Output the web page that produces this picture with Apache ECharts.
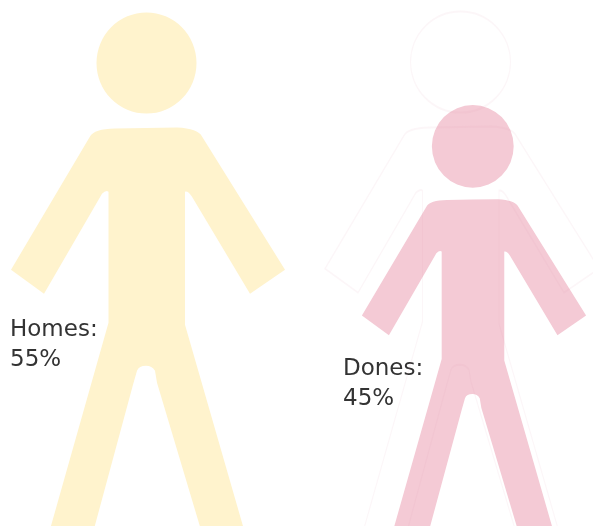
<!DOCTYPE html>
<html><head><meta charset="utf-8">
<style>html,body{margin:0;padding:0;background:#fff}#c{width:593px;height:526px}</style>
<script src="https://cdn.jsdelivr.net/npm/echarts@6/dist/echarts.min.js"></script>
</head><body><div id="c"></div>
<script>
const categories = ['Homes', 'Dones'];
const shareValues = [55, 45];
const outlineValues = [null, 55];
const colors = ['#fff3cd', '#f4cad5'];
const axisMax = 55;

const person = 'path://M96.5 63.5A50 50.5 0 1 1 196.5 63.5A50 50.5 0 1 1 96.5 63.5Z' +
  'M90 137Q94 129.5 115 129L146 128.5L177 128Q198 129 202 137L285 270L250 294L192 197' +
  'Q188 191 185 192L185 325L247 540L204 540L157 383L155 371Q152 366 146 366Q139 366 137 371' +
  'L133 385L91 540L47 540L108.5 323L108.5 192Q106 190 102 194L44 294L11 270Z';
const widthPerUnit = 274 / 55;

const chart = echarts.init(document.getElementById('c'), null, {renderer: 'canvas'});
chart.setOption({
  animation: false,
  backgroundColor: '#fff',
  grid: {left: -15, width: 652, top: 12.5, height: 527.5, outerBoundsMode: 'none'},
  xAxis: {type: 'category', data: categories, show: false},
  yAxis: {type: 'value', min: 0, max: axisMax, show: false},
  series: [
    {
      type: 'pictorialBar', name: 'share', barWidth: '100%', barGap: '-100%', z: 2,
      symbol: person, symbolPosition: 'start', silent: true,
      label: {
        show: true, formatter: '{b}:\n{c}%', color: '#333',
        fontFamily: 'DejaVu Sans', fontSize: 23, lineHeight: 30, align: 'left', verticalAlign: 'top'
      },
      data: shareValues.map((v, i) => ({
        value: v,
        symbolSize: [v * widthPerUnit, '100%'],
        symbolOffset: i === 1 ? [0, -3.4] : [0, 0],
        itemStyle: {color: colors[i]},
        label: {position: i === 0 ? [25, 303] : [32, 249]}
      }))
    },
    {
      type: 'pictorialBar', name: 'full', barWidth: '100%', barGap: '-100%', z: 3,
      symbol: person, symbolPosition: 'start', silent: true,
      itemStyle: {color: 'rgba(0,0,0,0)', borderColor: 'rgba(225,150,175,0.09)', borderWidth: 1.5},
      data: outlineValues.map(v => v === null ? '-' : ({
        value: v,
        symbolSize: [v * widthPerUnit, '100%'],
        symbolOffset: [-12, 0]
      }))
    }
  ]
});
</script></body></html>
